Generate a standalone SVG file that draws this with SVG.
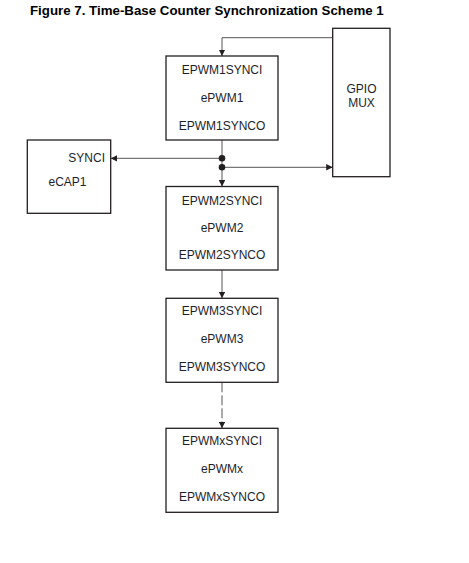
<svg xmlns="http://www.w3.org/2000/svg" width="469" height="563" viewBox="0 0 469 563">
<defs>
<style>
.box{fill:#fff;stroke:#231f20;stroke-width:1.3}
.t{font-family:"Liberation Sans",Arial,sans-serif;font-size:12px;fill:#1e1e2a;text-anchor:middle}
.title{font-family:"Liberation Sans",Arial,sans-serif;font-size:13.3px;font-weight:bold;fill:#000}
.c{fill:none;stroke:#555;stroke-width:1}
.dash{stroke-dasharray:10 3}
.dot{fill:#231f20}
</style>
<marker id="ah" viewBox="0 0 10 10" refX="10" refY="5" markerWidth="6.5" markerHeight="6.5" markerUnits="userSpaceOnUse" orient="auto">
<path d="M0,0 L10,5 L0,10 Z" fill="#231f20"/>
</marker>
</defs>
<rect width="469" height="563" fill="#fff"/>
<text class="title" x="30" y="15">Figure 7. Time-Base Counter Synchronization Scheme 1</text>

<g id="connectors">
<path class="c" d="M333,37.7 H222 V56" marker-end="url(#ah)"/>
<path class="c" d="M222,140 V186.5" marker-end="url(#ah)"/>
<path class="c" d="M222,158.3 H110.7" marker-end="url(#ah)"/>
<path class="c" d="M222,167.3 H332.7" marker-end="url(#ah)"/>
<path class="c" d="M222,270 V298.3" marker-end="url(#ah)"/>
<path class="c dash" d="M222,382.3 V428.3" marker-end="url(#ah)"/>
<circle class="dot" cx="222" cy="158.3" r="3.3"/>
<circle class="dot" cx="222" cy="167.3" r="3.3"/>
</g>

<g id="ePWM1">
<rect class="box" x="166" y="56" width="112" height="84"/>
<text class="t" x="222" y="74">EPWM1SYNCI</text>
<text class="t" x="222" y="101.7">ePWM1</text>
<text class="t" x="222" y="130">EPWM1SYNCO</text>
</g>

<g id="gpiomux">
<rect class="box" x="332.7" y="28.3" width="57.3" height="148.4"/>
<text class="t" x="361.5" y="92.7">GPIO</text>
<text class="t" x="361.5" y="106.5">MUX</text>
</g>

<g id="eCAP1">
<rect class="box" x="27.3" y="140" width="83.4" height="73.3"/>
<text class="t" x="105" y="162.3" style="text-anchor:end">SYNCI</text>
<text class="t" x="67.5" y="185.7">eCAP1</text>
</g>

<g id="ePWM2">
<rect class="box" x="166" y="186.5" width="112" height="83.5"/>
<text class="t" x="222" y="205">EPWM2SYNCI</text>
<text class="t" x="222" y="231.7">ePWM2</text>
<text class="t" x="222" y="259.3">EPWM2SYNCO</text>
</g>

<g id="ePWM3">
<rect class="box" x="166" y="298.3" width="112" height="84"/>
<text class="t" x="222" y="315">EPWM3SYNCI</text>
<text class="t" x="222" y="342.7">ePWM3</text>
<text class="t" x="222" y="370.7">EPWM3SYNCO</text>
</g>

<g id="ePWMx">
<rect class="box" x="166" y="428.3" width="112" height="84"/>
<text class="t" x="222" y="445">EPWMxSYNCI</text>
<text class="t" x="222" y="472.7">ePWMx</text>
<text class="t" x="222" y="500.7">EPWMxSYNCO</text>
</g>
</svg>
